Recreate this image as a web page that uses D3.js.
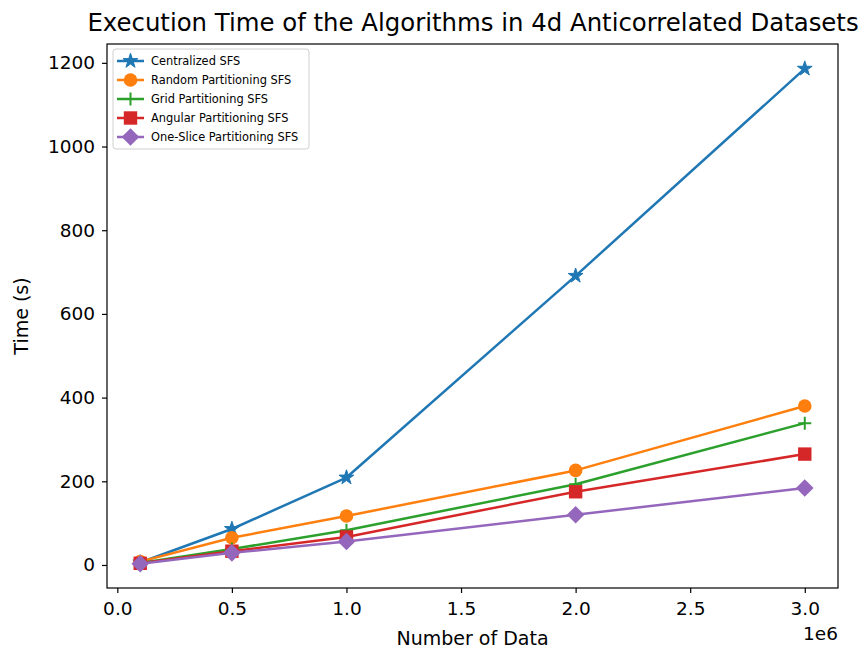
<!DOCTYPE html>
<html>
<head>
<meta charset="utf-8">
<script src="https://cdn.jsdelivr.net/npm/d3@7"></script>
<style>
  html, body { margin: 0; padding: 0; background: #fff; }
  text { font-family: "DejaVu Sans", sans-serif; fill: #000; }
</style>
</head>
<body>
<svg id="chart" width="861" height="651"></svg>
<script>
const xValues = [100000, 500000, 1000000, 2000000, 3000000];
const centralized = [6, 86, 209, 691, 1186];
const randomPart = [8, 65, 117, 226, 380];
const gridPart = [5, 38, 83, 193, 339];
const angularPart = [4, 33, 67, 175, 265];
const oneSlicePart = [3, 29, 56, 120, 184];
const seriesNames = ["Centralized SFS", "Random Partitioning SFS", "Grid Partitioning SFS", "Angular Partitioning SFS", "One-Slice Partitioning SFS"];
const seriesColors = ["#1f77b4", "#ff7f0e", "#2ca02c", "#d62728", "#9467bd"];
const seriesMarkers = ["star", "circle", "plus", "square", "diamond"];
const xTicks = [0, 500000, 1000000, 1500000, 2000000, 2500000, 3000000];
const yTicks = [0, 200, 400, 600, 800, 1000, 1200];
const titleText = "Execution Time of the Algorithms in 4d Anticorrelated Datasets";
const xLabel = "Number of Data";
const yLabel = "Time (s)";

const allSeries = [centralized, randomPart, gridPart, angularPart, oneSlicePart];

const svg = d3.select("#chart");
const L = 107, R = 838, T = 44, B = 588;

const x = d3.scaleLinear().domain([-45000, 3145000]).range([L, R]);
const y = d3.scaleLinear().domain([-55, 1245]).range([B, T]);

function drawMarker(g, type, color, cx, cy) {
  if (type === "star") {
    g.append("path").attr("d", d3.symbol().type(d3.symbolStar).size(68)())
      .attr("transform", `translate(${cx},${cy})`).attr("fill", color).attr("stroke", color).attr("stroke-width", 1);
  } else if (type === "circle") {
    g.append("circle").attr("cx", cx).attr("cy", cy).attr("r", 6.8).attr("fill", color);
  } else if (type === "plus") {
    g.append("path").attr("d", `M${cx-6.5},${cy}H${cx+6.5}M${cx},${cy-6.5}V${cy+6.5}`)
      .attr("stroke", color).attr("stroke-width", 2).attr("fill", "none");
  } else if (type === "square") {
    g.append("rect").attr("x", cx-6.7).attr("y", cy-6.7).attr("width", 13.4).attr("height", 13.4).attr("fill", color);
  } else if (type === "diamond") {
    g.append("path").attr("d", `M${cx},${cy-8.8}L${cx+8.8},${cy}L${cx},${cy+8.8}L${cx-8.8},${cy}Z`).attr("fill", color);
  }
}

// Axes
const xAxis = d3.axisBottom(x).tickValues(xTicks).tickFormat(d => (d/1e6).toFixed(1)).tickSize(5).tickPadding(9);
const yAxis = d3.axisLeft(y).tickValues(yTicks).tickFormat(d3.format("d")).tickSize(5).tickPadding(7);

const gx = svg.append("g").attr("transform", `translate(0,${B})`).call(xAxis);
const gy = svg.append("g").attr("transform", `translate(${L},0)`).call(yAxis);
[gx, gy].forEach(g => {
  g.select(".domain").remove();
  g.selectAll(".tick line").attr("stroke", "#000").attr("stroke-width", 1.2);
  g.selectAll(".tick text").attr("font-size", 18.5).attr("font-family", "DejaVu Sans").attr("fill", "#000");
});

// Lines
const plot = svg.append("g");
allSeries.forEach((vals, i) => {
  const line = d3.line().x((d, j) => x(xValues[j])).y(d => y(d));
  plot.append("path").datum(vals).attr("d", line).attr("fill", "none")
    .attr("stroke", seriesColors[i]).attr("stroke-width", 2.5).attr("stroke-linejoin", "round");
  vals.forEach((v, j) => drawMarker(plot, seriesMarkers[i], seriesColors[i], x(xValues[j]), y(v)));
});

// Frame
svg.append("rect").attr("x", L).attr("y", T).attr("width", R - L).attr("height", B - T)
  .attr("fill", "none").attr("stroke", "#000").attr("stroke-width", 1.2);

// Title
svg.append("text").attr("x", (L + R) / 2 + 0.5).attr("y", 31).attr("text-anchor", "middle")
  .attr("font-size", 24.4).text(titleText);

// Axis labels
svg.append("text").attr("x", (L + R) / 2).attr("y", 645).attr("text-anchor", "middle")
  .attr("font-size", 19).text(xLabel);
svg.append("text").attr("transform", `translate(28,${(T + B) / 2}) rotate(-90)`).attr("text-anchor", "middle")
  .attr("font-size", 19).text(yLabel);
svg.append("text").attr("x", R).attr("y", 640).attr("text-anchor", "end")
  .attr("font-size", 18.5).text("1e6");

// Legend
const lg = svg.append("g");
lg.append("rect").attr("x", 113).attr("y", 49).attr("width", 196).attr("height", 100).attr("rx", 3)
  .attr("fill", "#fff").attr("fill-opacity", 0.8).attr("stroke", "#d0d0d0").attr("stroke-width", 1);
seriesNames.forEach((name, i) => {
  const cy = 61 + i * 19;
  lg.append("line").attr("x1", 117).attr("x2", 144).attr("y1", cy).attr("y2", cy)
    .attr("stroke", seriesColors[i]).attr("stroke-width", 2.5);
  drawMarker(lg, seriesMarkers[i], seriesColors[i], 130.5, cy);
  lg.append("text").attr("x", 151).attr("y", cy + 4).attr("font-size", 11.4).text(name);
});
</script>
</body>
</html>
